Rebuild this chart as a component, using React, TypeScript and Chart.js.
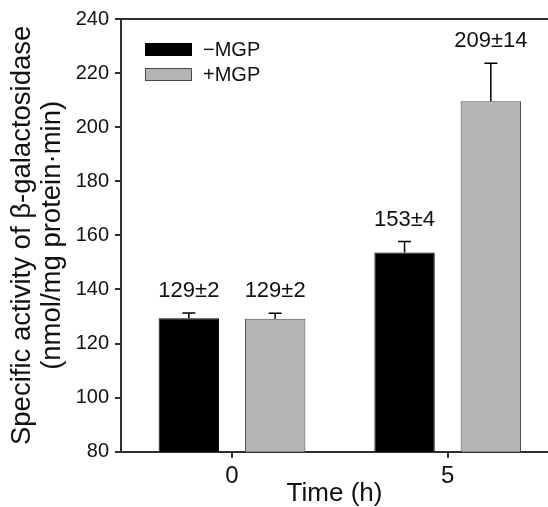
import React, { useEffect, useRef } from 'react';
import { Chart, registerables } from 'chart.js';

Chart.register(...registerables);

// ---- data ----
const timePoints = [0, 5];
const timeLabels = ['0', '5'];
const seriesNames = ['\u2212MGP', '+MGP'];
const minusMGP = [129.3, 153.7];
const plusMGP = [129.2, 209.6];
const minusErr = [2, 4];
const plusErr = [2, 14];
const minusText = ['129\u00b12', '153\u00b14'];
const plusText = ['129\u00b12', '209\u00b114'];
const yMin = 80;
const yMax = 240;
const yStep = 20;

const FONT = '"Liberation Sans", Arial, Helvetica, sans-serif';
const AXIS = '#2e2e2e';
const GRAY = '#b4b4b4';
const GRAY_EDGE = '#4a4a4a';

const errors = [minusErr, plusErr];
const texts = [minusText, plusText];

const errorBarPlugin = {
  id: 'errorBars',
  afterDatasetsDraw(chart: any) {
    const ctx = chart.ctx;
    const y = chart.scales.y;
    ctx.save();
    chart.data.datasets.forEach((ds: any, i: number) => {
      const meta = chart.getDatasetMeta(i);
      meta.data.forEach((bar: any, j: number) => {
        const v = ds.data[j].y;
        const top = y.getPixelForValue(v + errors[i][j]);
        const x = bar.x;
        ctx.strokeStyle = '#000';
        ctx.lineWidth = 1.5;
        ctx.beginPath();
        ctx.moveTo(x, bar.y);
        ctx.lineTo(x, top);
        ctx.moveTo(x - 6.5, top);
        ctx.lineTo(x + 6.5, top);
        ctx.stroke();
        ctx.fillStyle = '#111';
        ctx.font = `22px ${FONT}`;
        ctx.textAlign = 'center';
        ctx.textBaseline = 'alphabetic';
        ctx.fillText(texts[i][j], x, top - 16);
      });
    });
    ctx.restore();
  },
};

const framePlugin = {
  id: 'frameAndLegend',
  afterDraw(chart: any) {
    const ctx = chart.ctx;
    const a = chart.chartArea;
    ctx.save();
    // top frame line
    ctx.strokeStyle = AXIS;
    ctx.lineWidth = 2;
    ctx.beginPath();
    ctx.moveTo(a.left - 1, a.top);
    ctx.lineTo(a.right, a.top);
    ctx.stroke();
    // legend inside plot
    const bx = a.left + 24;
    const by = a.top + 24;
    chart.data.datasets.forEach((ds: any, i: number) => {
      const top = by + i * 25;
      ctx.fillStyle = ds.backgroundColor;
      ctx.fillRect(bx, top, 47, 13);
      ctx.strokeStyle = ds.borderColor;
      ctx.lineWidth = 1;
      ctx.strokeRect(bx + 0.5, top + 0.5, 46, 12);
      ctx.fillStyle = '#111';
      ctx.font = `20px ${FONT}`;
      ctx.textAlign = 'left';
      ctx.textBaseline = 'middle';
      ctx.fillText(ds.label, bx + 58, top + 7);
    });
    ctx.restore();
  },
};

export default function App() {
  const ref = useRef<HTMLCanvasElement | null>(null);

  useEffect(() => {
    document.body.style.margin = '0';
    const canvas = ref.current;
    if (!canvas) return;
    const chart = new Chart(canvas, {
      type: 'bar',
      data: {
        datasets: [
          {
            label: seriesNames[0],
            data: timePoints.map((t, i) => ({ x: t, y: minusMGP[i] })),
            backgroundColor: '#000000',
            borderColor: '#000000',
            borderWidth: 1,
            categoryPercentage: 0.8,
            barPercentage: 0.7,
          },
          {
            label: seriesNames[1],
            data: timePoints.map((t, i) => ({ x: t, y: plusMGP[i] })),
            backgroundColor: GRAY,
            borderColor: GRAY_EDGE,
            borderWidth: 1,
            categoryPercentage: 0.8,
            barPercentage: 0.7,
          },
        ],
      },
      options: {
        responsive: false,
        animation: false,
        devicePixelRatio: 1,
        layout: { padding: { top: 19, left: 0, right: 0, bottom: 0 } },
        plugins: { legend: { display: false }, tooltip: { enabled: false } },
        scales: {
          x: {
            type: 'linear',
            offset: false,
            min: -2.573,
            max: 7.325,
            afterBuildTicks: (s: any) => {
              s.ticks = timePoints.map((v) => ({ value: v }));
            },
            afterFit: (s: any) => {
              s.height = 55.3;
            },
            ticks: {
              autoSkip: false,
              maxRotation: 0,
              padding: 4,
              color: '#111',
              font: { family: FONT, size: 24 },
              callback: (v: any) => {
                const k = timePoints.indexOf(Number(v));
                return k >= 0 ? timeLabels[k] : '';
              },
            },
            grid: { offset: false, drawOnChartArea: false, drawTicks: true, tickLength: 6, color: AXIS, lineWidth: 2 },
            border: { display: true, color: AXIS, width: 2 },
            title: {
              display: true,
              text: 'Time (h)',
              color: '#111',
              font: { family: FONT, size: 26, lineHeight: 1 },
              padding: 0,
            },
          },
          y: {
            min: yMin,
            max: yMax,
            afterFit: (s: any) => {
              s.width = 121;
            },
            ticks: {
              stepSize: yStep,
              padding: 6,
              color: '#111',
              font: { family: FONT, size: 20 },
            },
            grid: { drawOnChartArea: false, drawTicks: true, tickLength: 6, color: AXIS, lineWidth: 2 },
            border: { display: true, color: AXIS, width: 2 },
            title: {
              display: true,
              text: ['Specific activity of \u03b2-galactosidase', '(nmol/mg protein\u00b7min)'],
              color: '#111',
              font: { family: FONT, size: 27.5, lineHeight: 1.08 },
              padding: { top: 8, bottom: 0 },
            },
          },
        },
      },
      plugins: [errorBarPlugin, framePlugin],
    } as any);
    return () => chart.destroy();
  }, []);

  return (
    <div style={{ width: 548, height: 507, background: '#fff' }}>
      <canvas ref={ref} width={548} height={507} style={{ display: 'block' }} />
    </div>
  );
}
